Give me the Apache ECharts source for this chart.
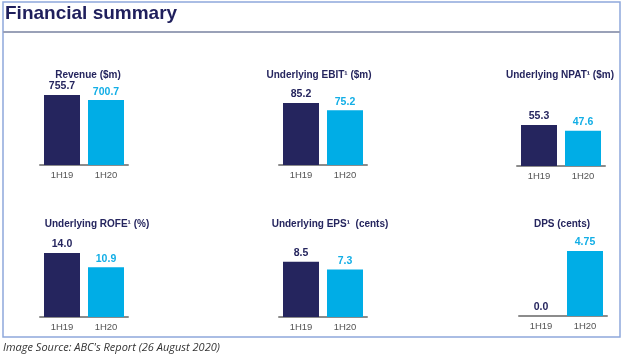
<!DOCTYPE html>
<html>
<head>
<meta charset="utf-8">
<script src="https://cdn.jsdelivr.net/npm/echarts@6/dist/echarts.min.js"></script>
<style>html,body{margin:0;padding:0;background:#fff;}#c{width:624px;height:357px;}</style>
</head>
<body>
<div id="c"></div>
<script>
const periods = ['1H19', '1H20'];
const panelTitles = ['Revenue ($m)', 'Underlying EBIT¹ ($m)', 'Underlying NPAT¹ ($m)', 'Underlying ROFE¹ (%)', 'Underlying EPS¹  (cents)', 'DPS (cents)'];
const revenue = [755.7, 700.7];
const ebit = [85.2, 75.2];
const npat = [55.3, 47.6];
const rofe = [14.0, 10.9];
const eps = [8.5, 7.3];
const dps = [0.0, 4.75];
const valueLabels = [
  ['755.7', '700.7'], ['85.2', '75.2'], ['55.3', '47.6'],
  ['14.0', '10.9'], ['8.5', '7.3'], ['0.0', '4.75']
];
const axisMax = [864, 110, 108, 17.5, 12.3, 5.85];

const seriesData = [revenue, ebit, npat, rofe, eps, dps];
const colors = ['#25255e', '#00ade6'];
const labelColors = ['#25255e', '#12aee6'];

// layout
const gridLefts = [40, 279, 517, 40, 279, 519];
const gridTops = [85, 85, 86, 237, 237, 236];
const titleX = [88, 319, 560, 97, 330, 562];
const titleY = [75, 75, 75, 224, 224, 224];

const chart = echarts.init(document.getElementById('c'));
const grids = [], xAxes = [], yAxes = [], series = [], graphics = [];
seriesData.forEach((vals, i) => {
  grids.push({left: gridLefts[i], top: gridTops[i], width: 88, height: 80});
  xAxes.push({
    type: 'category', gridIndex: i, data: periods,
    axisLine: {lineStyle: {color: '#8c8c8c', width: 2}},
    axisTick: {show: false},
    axisLabel: {color: '#555', fontSize: 9.5, fontFamily: 'Liberation Sans', margin: 5}
  });
  yAxes.push({type: 'value', gridIndex: i, min: 0, max: axisMax[i], show: false, splitLine: {show: false}});
  series.push({
    type: 'bar', xAxisIndex: i, yAxisIndex: i, barWidth: 36,
    data: vals.map((v, k) => ({
      value: v,
      itemStyle: {color: colors[k]},
      label: {color: labelColors[k], formatter: valueLabels[i][k]}
    })),
    label: {
      show: true, position: 'top', distance: 3,
      fontSize: 10.5, fontWeight: 'bold', fontFamily: 'Liberation Sans'
    },
    animation: false
  });
  graphics.push({
    type: 'text', x: titleX[i], y: titleY[i],
    style: {text: panelTitles[i], fill: '#25255e', font: 'bold 10px "Liberation Sans"', textAlign: 'center', textVerticalAlign: 'middle'}
  });
});

graphics.push(
  {type: 'rect', shape: {x: 3, y: 2, width: 617, height: 335}, style: {fill: 'none', stroke: '#8fa8db', lineWidth: 1.5}},
  {type: 'line', shape: {x1: 3, y1: 32, x2: 620, y2: 32}, style: {stroke: '#9aa1b8', lineWidth: 2}},
  {type: 'text', x: 5, y: 14, style: {text: 'Financial summary', fill: '#1f1f5c', font: 'bold 19px "Liberation Sans"', textVerticalAlign: 'middle'}},
  {type: 'text', x: 3, y: 348, style: {text: "Image Source: ABC's Report (26 August 2020)", fill: '#333', font: 'italic 11px "Open Sans"', textVerticalAlign: 'middle'}}
);

chart.setOption({
  animation: false,
  grid: grids, xAxis: xAxes, yAxis: yAxes, series: series, graphic: graphics
});
</script>
</body>
</html>
